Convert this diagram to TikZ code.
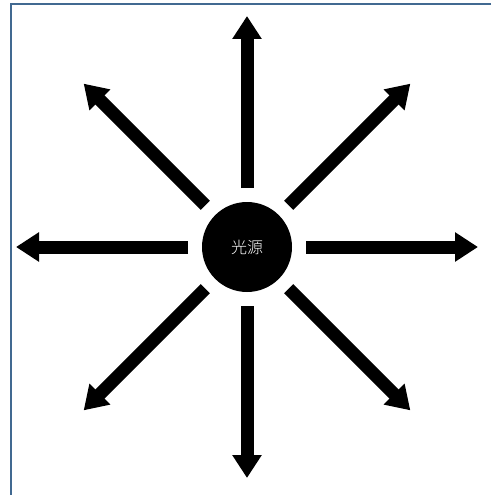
\documentclass[tikz,border=0pt]{standalone}
\usepackage{fontspec}
\newfontfamily\cjk{Noto Sans CJK SC Light}
\usetikzlibrary{arrows.meta,calc}
\definecolor{framecol}{RGB}{65,105,145}
\tikzset{
  frameline/.style={draw=framecol, line width=2pt},
  lamp/.style={circle, fill=black, minimum size=90pt, inner sep=0pt},
  lamptext/.style={text=white, font=\cjk\fontsize{16}{16}\selectfont, inner sep=0pt},
  ray/.style={draw=black, line width=13pt, -{Triangle[width=28pt,length=23pt]}}
}
\begin{document}
\begin{tikzpicture}[x=1pt,y=1pt]
\useasboundingbox (0,0) rectangle (491,-495);
\coordinate (tl) at (11,-4);
\coordinate (tr) at (491,-4);
\coordinate (bl) at (11,-495);
\draw[frameline] (tr) -- (tl) -- (bl);
\node[lamp] (c) at (247,-247) {};
\node[lamptext] (t) at (c) {光源};
\foreach \a in {0,45,...,315} {
  \coordinate (s\a) at ($(c)+(\a:59)$);
  \coordinate (e\a) at ($(c)+(\a:231)$);
  \draw[ray] (s\a) -- (e\a);
}
\end{tikzpicture}
\end{document}
